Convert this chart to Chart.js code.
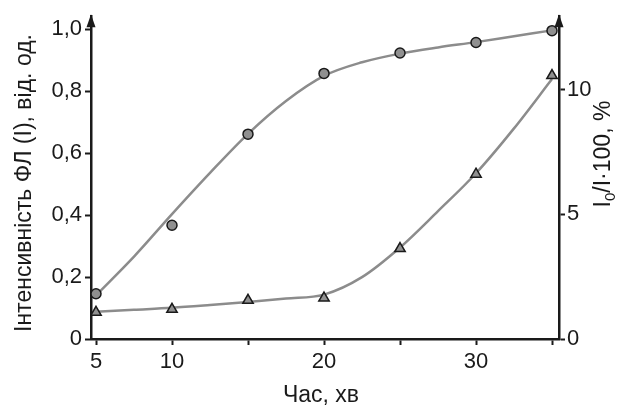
<!DOCTYPE html>
<html>
<head>
<meta charset="utf-8">
<script src="https://cdn.jsdelivr.net/npm/chart.js@4.4.1/dist/chart.umd.min.js"></script>
<style>
body{margin:0;background:#fff;}
#wrap{width:622px;height:406px;}
</style>
</head>
<body>
<div id="wrap"><canvas id="chart" width="622" height="406"></canvas></div>
<script>
// measured points
const times=[5,10,15,20,25,30,35];
const intensity=[0.146,0.367,0.661,0.857,0.923,0.957,0.995];
const ratio=[1.07,1.19,1.55,1.64,3.63,6.61,10.57];

// fitted curves
const fitTimes=[5,7.5,10,12.5,15,17.5,20,22.5,25,27.5,30,32.5,35];
const intensityFit=[0.141,0.266,0.403,0.536,0.662,0.768,0.849,0.893,0.921,0.941,0.958,0.977,0.996];
const ratioFit=[1.09,1.17,1.25,1.36,1.48,1.62,1.78,2.48,3.67,5.13,6.65,8.45,10.43];

// ticks
const xTicks=[5,10,15,20,25,30,35];
const xLabels=["5","10","","20","","30",""];
const leftTicks=[0,0.2,0.4,0.6,0.8,1.0];
const leftLabels=["0","0,2","0,4","0,6","0,8","1,0"];
const rightTicks=[0,5,10];
const rightLabels=["0","5","10"];

const FONT="'Liberation Sans', Arial, sans-serif";
const INK="#1a1a1a";
const CURVE="#8c8c8c";
const MARK="#909090";

function pts(xs,ys){
return xs.map((x,i)=>({x:x,y:ys[i]}));
}

const decor={
id:"decor",
afterDraw(chart){
const ctx=chart.ctx;
const a=chart.chartArea;
ctx.save();
ctx.fillStyle=INK;

// arrow heads on both y axes
[a.left,a.right].forEach(x=>{
ctx.beginPath();
ctx.moveTo(x,a.top-2);
ctx.lineTo(x-4.5,a.top+11);
ctx.lineTo(x+4.5,a.top+11);
ctx.closePath();
ctx.fill();
});

ctx.font="23px "+FONT;
ctx.textBaseline="alphabetic";

// bottom title
ctx.textAlign="center";
ctx.fillText("Час, хв",321,402);

// left title
ctx.save();
ctx.translate(31,183);
ctx.rotate(-Math.PI/2);
ctx.textAlign="center";
ctx.fillText("Інтенсивність ФЛ (І), від. од.",0,0);
ctx.restore();

// right title with subscript
ctx.save();
ctx.translate(610,154);
ctx.rotate(-Math.PI/2);
ctx.textAlign="left";
const big="23px "+FONT, small="15px "+FONT;
ctx.font=big;
const w1=ctx.measureText("I").width;
const w3=ctx.measureText("/I·100, %").width;
ctx.font=small;
const w2=ctx.measureText("0").width;
let x=-(w1+w2+w3)/2;
ctx.font=big;
ctx.fillText("I",x,0);
x+=w1;
ctx.font=small;
ctx.fillText("0",x,5);
x+=w2;
ctx.font=big;
ctx.fillText("/I·100, %",x,0);
ctx.restore();

ctx.restore();
}
};

function axisGrid(){
return {drawOnChartArea:false,drawTicks:true,tickLength:6,tickWidth:2,tickColor:INK};
}

new Chart(document.getElementById("chart"),{
type:"scatter",
data:{
datasets:[
{
data:pts(times,intensity),yAxisID:"y",order:0,
pointStyle:"circle",pointRadius:5,pointBorderWidth:1.5,
pointBackgroundColor:MARK,pointBorderColor:INK,showLine:false
},
{
data:pts(times,ratio),yAxisID:"y2",order:0,
pointStyle:"triangle",pointRadius:6,pointBorderWidth:1.5,
pointBackgroundColor:MARK,pointBorderColor:INK,showLine:false
},
{
data:pts(fitTimes,intensityFit),yAxisID:"y",order:1,
showLine:true,pointRadius:0,borderColor:CURVE,borderWidth:2.5,
cubicInterpolationMode:"monotone"
},
{
data:pts(fitTimes,ratioFit),yAxisID:"y2",order:1,
showLine:true,pointRadius:0,borderColor:CURVE,borderWidth:2.5,
cubicInterpolationMode:"monotone"
}
]
},
options:{
responsive:false,
animation:false,
layout:{padding:{top:14,left:0,right:0,bottom:0}},
plugins:{legend:{display:false},tooltip:{enabled:false}},
scales:{
x:{
type:"linear",min:4.671,max:35.46,
grid:axisGrid(),
border:{display:true,color:INK,width:2.5},
afterBuildTicks(s){s.ticks=xTicks.map(v=>({value:v}));},
afterFit(s){s.height=67;},
ticks:{
color:INK,font:{family:FONT,size:22},padding:4,maxRotation:0,autoSkip:false,
callback:(v,i)=>xLabels[i]
}
},
y:{
type:"linear",position:"left",min:0,max:1.0417,
grid:axisGrid(),
border:{display:true,color:INK,width:2.5},
afterBuildTicks(s){s.ticks=leftTicks.map(v=>({value:v}));},
afterFit(s){s.width=91;},
ticks:{
color:INK,font:{family:FONT,size:22},padding:3,
callback:(v,i)=>leftLabels[i]
}
},
y2:{
type:"linear",position:"right",min:0,max:12.95,
grid:axisGrid(),
border:{display:true,color:INK,width:2.5},
afterBuildTicks(s){s.ticks=rightTicks.map(v=>({value:v}));},
afterFit(s){s.width=63;},
ticks:{
color:INK,font:{family:FONT,size:22},padding:2,
callback:(v,i)=>rightLabels[i]
}
}
}
},
plugins:[decor]
});
</script>
</body>
</html>
